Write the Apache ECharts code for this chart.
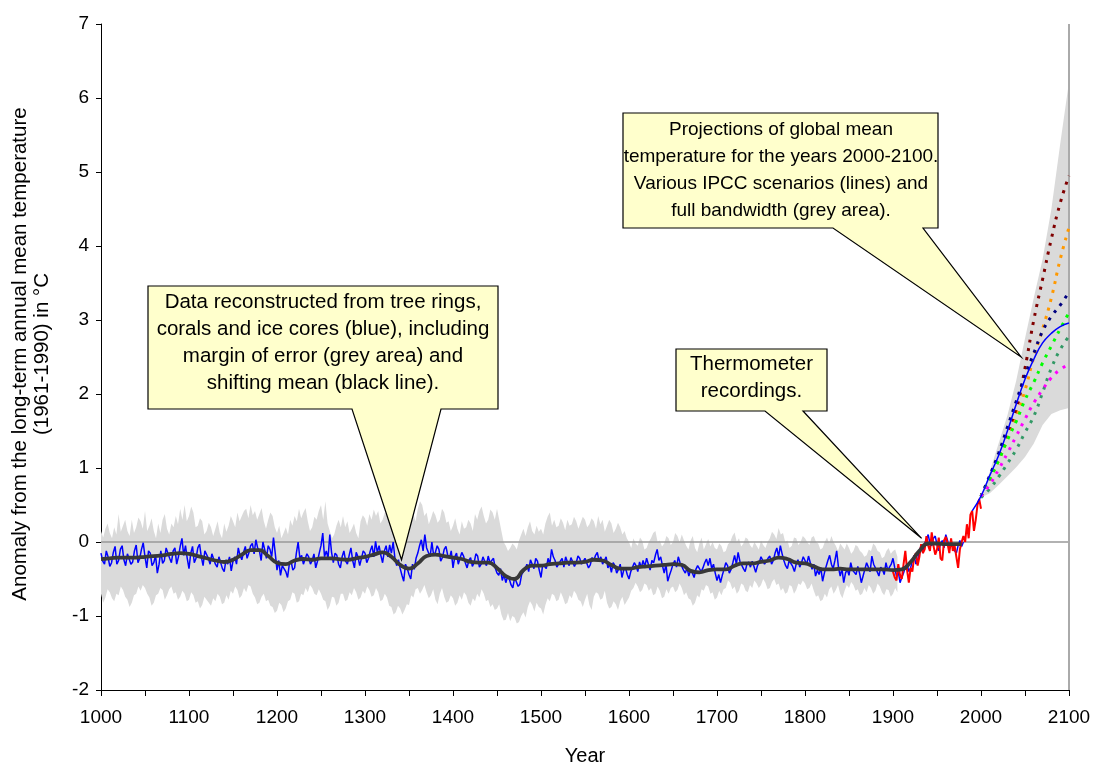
<!DOCTYPE html>
<html><head><meta charset="utf-8">
<script src="https://cdn.jsdelivr.net/npm/echarts@6/dist/echarts.min.js"></script>
<style>html,body{margin:0;padding:0;background:#fff}#c{width:1093px;height:765px}</style>
</head><body><div id="c"></div>
<script>
// ---------- data ----------
const xTicks = [1000, 1100, 1200, 1300, 1400, 1500, 1600, 1700, 1800, 1900, 2000, 2100];
const yTicks = [-2, -1, 0, 1, 2, 3, 4, 5, 6, 7];

// reconstructed (blue), every 2 years from 1000
const blueStart = 1000, blueStep = 2;
const blueValues = [
-0.15,-0.26,-0.30,-0.12,-0.20,-0.33,-0.28,-0.14,-0.06,-0.30,-0.25,-0.10,-0.05,-0.24,-0.32,-0.16,-0.18,-0.30,-0.27,-0.12,
-0.04,-0.28,-0.22,-0.10,-0.01,-0.20,-0.35,-0.12,-0.15,-0.32,-0.28,-0.18,-0.42,-0.30,-0.12,-0.29,-0.25,-0.08,-0.10,-0.22,
-0.28,-0.12,-0.08,-0.30,-0.20,-0.06,0.05,-0.18,-0.05,-0.22,-0.36,-0.15,-0.06,-0.28,-0.22,-0.08,-0.03,-0.20,-0.32,-0.12,
-0.14,-0.22,-0.30,-0.16,-0.18,-0.30,-0.34,-0.20,-0.22,-0.36,-0.40,-0.24,-0.30,-0.20,-0.39,-0.26,-0.20,-0.30,-0.08,-0.18,
-0.24,-0.14,-0.06,-0.22,-0.15,-0.05,-0.02,-0.16,0.03,-0.08,-0.12,-0.25,0.00,-0.10,-0.22,-0.05,-0.10,-0.20,0.06,-0.15,
-0.38,-0.25,-0.45,-0.32,-0.30,-0.40,-0.48,-0.30,-0.26,-0.38,-0.35,-0.15,0.00,-0.22,-0.18,-0.30,-0.32,-0.16,-0.20,-0.30,
-0.25,-0.16,-0.35,-0.26,-0.15,-0.05,0.12,-0.20,-0.12,-0.22,0.10,-0.14,-0.28,-0.15,-0.18,-0.30,-0.35,-0.20,-0.12,-0.26,
-0.30,-0.18,-0.08,-0.25,-0.35,-0.14,-0.20,-0.32,-0.30,-0.12,-0.15,-0.28,-0.22,-0.12,-0.05,-0.20,0.01,-0.14,-0.05,-0.18,
-0.28,-0.12,-0.05,-0.20,-0.04,-0.15,0.00,-0.22,-0.32,-0.24,-0.36,-0.45,-0.53,-0.30,-0.36,-0.44,-0.50,-0.30,-0.37,-0.22,
-0.15,-0.05,0.03,-0.12,0.10,-0.08,-0.06,-0.20,0.00,-0.18,-0.14,-0.05,-0.10,-0.26,-0.21,-0.10,-0.06,-0.18,-0.22,-0.12,
-0.35,-0.20,-0.15,-0.30,-0.28,-0.14,-0.19,-0.28,-0.35,-0.25,-0.21,-0.33,-0.28,-0.16,-0.19,-0.34,-0.30,-0.20,-0.22,-0.32,
-0.19,-0.28,-0.30,-0.22,-0.35,-0.42,-0.45,-0.36,-0.52,-0.44,-0.55,-0.47,-0.50,-0.58,-0.62,-0.48,-0.50,-0.60,-0.57,-0.44,
-0.45,-0.36,-0.30,-0.40,-0.24,-0.30,-0.36,-0.22,-0.26,-0.38,-0.48,-0.30,-0.28,-0.36,-0.22,-0.30,-0.10,-0.20,-0.25,-0.34,
-0.35,-0.26,-0.22,-0.34,-0.20,-0.27,-0.32,-0.21,-0.20,-0.33,-0.28,-0.19,-0.22,-0.30,-0.32,-0.22,-0.24,-0.35,-0.31,-0.21,
-0.25,-0.18,-0.14,-0.26,-0.20,-0.30,-0.28,-0.20,-0.35,-0.30,-0.41,-0.28,-0.32,-0.42,-0.37,-0.30,-0.48,-0.38,-0.35,-0.44,
-0.50,-0.40,-0.38,-0.28,-0.32,-0.40,-0.27,-0.35,-0.25,-0.33,-0.22,-0.30,-0.38,-0.25,-0.28,-0.18,-0.10,-0.25,-0.20,-0.32,
-0.42,-0.30,-0.53,-0.45,-0.38,-0.30,-0.25,-0.34,-0.20,-0.28,-0.30,-0.38,-0.42,-0.35,-0.46,-0.38,-0.42,-0.48,-0.37,-0.32,
-0.30,-0.40,-0.35,-0.28,-0.23,-0.32,-0.22,-0.36,-0.30,-0.42,-0.52,-0.44,-0.55,-0.45,-0.37,-0.28,-0.32,-0.42,-0.37,-0.28,
-0.18,-0.30,-0.14,-0.26,-0.28,-0.36,-0.40,-0.30,-0.27,-0.34,-0.26,-0.33,-0.41,-0.32,-0.28,-0.20,-0.22,-0.30,-0.32,-0.22,
-0.19,-0.30,-0.25,-0.15,-0.08,-0.20,-0.05,-0.16,-0.25,-0.32,-0.36,-0.25,-0.24,-0.33,-0.40,-0.30,-0.24,-0.34,-0.28,-0.20,
-0.20,-0.30,-0.19,-0.28,-0.37,-0.30,-0.46,-0.38,-0.44,-0.35,-0.53,-0.42,-0.33,-0.25,-0.18,-0.30,-0.36,-0.25,-0.12,-0.34,
-0.46,-0.36,-0.55,-0.42,-0.37,-0.45,-0.28,-0.38,-0.37,-0.44,-0.33,-0.42,-0.55,-0.46,-0.37,-0.28,-0.30,-0.40,-0.19,-0.30,
-0.32,-0.40,-0.46,-0.34,-0.37,-0.44,-0.28,-0.38,-0.37,-0.30,-0.22,-0.35,-0.46,-0.40,-0.55,-0.48,-0.42,-0.34,-0.30,-0.40,
-0.35,-0.25,-0.18,-0.30,-0.25,-0.12,-0.05,-0.15,-0.02,0.04,0.10,-0.02,-0.05,0.05,0.08,-0.04,-0.12,-0.02,0.02,-0.08,
0.10,0.02,-0.10,-0.02,-0.05,-0.12,-0.15,-0.05,0.02,-0.06,0.00
];

// margin of error (grey band), every 2.5 years from 1000
const bandStart = 1000, bandStep = 2.5;
const bandUpper = [
0.15,0.06,0.18,0.25,0.12,0.05,0.20,0.10,0.38,0.14,0.22,0.30,0.15,0.08,0.30,0.12,0.20,0.33,0.28,0.18,
0.42,0.15,0.22,0.32,0.15,0.05,0.25,0.12,0.30,0.38,0.18,0.10,0.25,0.20,0.35,0.24,0.45,0.30,0.50,0.28,
0.35,0.48,0.40,0.20,0.22,0.32,0.28,0.10,0.15,0.26,0.20,0.08,0.18,0.28,0.12,0.05,0.25,0.14,0.22,0.35,
0.28,0.20,0.40,0.28,0.35,0.42,0.45,0.32,0.50,0.36,0.42,0.30,0.38,0.46,0.28,0.18,0.30,0.40,0.35,0.20,
0.12,0.22,0.05,0.12,0.20,0.10,0.30,0.22,0.35,0.28,0.45,0.32,0.40,0.46,0.28,0.15,0.20,0.34,0.30,0.42,
0.50,0.30,0.55,0.25,0.15,0.05,0.10,0.22,0.30,0.20,0.35,0.20,0.28,0.12,0.18,0.25,0.12,0.05,0.28,0.36,
0.32,0.22,0.38,0.30,0.44,0.35,0.42,0.25,0.30,0.40,0.36,0.48,0.45,0.30,0.40,0.28,0.35,0.50,0.42,0.32,
0.30,0.42,0.38,0.28,0.45,0.55,0.50,0.35,0.40,0.24,0.32,0.42,0.36,0.26,0.30,0.45,0.40,0.26,0.28,0.15,
0.22,0.32,0.18,0.10,0.28,0.18,0.20,0.30,0.25,0.15,0.38,0.30,0.42,0.48,0.35,0.25,0.30,0.44,0.40,0.30,
0.45,0.30,0.15,0.00,-0.05,-0.12,-0.08,-0.02,-0.05,-0.10,0.02,0.10,0.18,0.08,0.20,0.28,0.15,0.10,0.22,0.14,
0.18,0.10,0.25,0.34,0.40,0.22,0.30,0.20,0.22,0.32,0.26,0.16,0.30,0.22,0.24,0.34,0.28,0.18,0.26,0.34,
0.30,0.20,0.24,0.32,0.28,0.18,0.35,0.24,0.30,0.14,0.22,0.30,0.25,0.12,0.18,0.26,0.20,0.10,0.15,0.05,
0.00,-0.08,0.05,-0.02,-0.05,0.06,0.02,-0.10,-0.08,0.00,0.05,0.12,0.15,0.00,0.02,-0.06,-0.02,0.08,0.05,-0.04,
0.00,0.12,0.08,0.00,0.10,0.02,-0.05,-0.10,0.02,0.08,-0.08,-0.14,-0.02,0.06,-0.10,-0.03,0.04,-0.06,0.00,-0.08,
-0.10,-0.02,-0.05,-0.14,-0.12,-0.03,0.00,0.08,0.13,0.00,0.05,-0.06,-0.02,0.06,0.04,-0.04,-0.08,0.00,-0.05,-0.10,
0.02,-0.04,-0.08,0.00,0.05,0.14,0.10,0.04,0.19,0.10,0.12,0.00,0.02,-0.08,-0.05,0.06,0.05,-0.04,0.00,0.08,
0.05,0.00,-0.04,0.06,0.08,0.00,-0.02,-0.10,-0.08,0.00,0.06,-0.02,0.08,0.00,-0.05,-0.12,-0.02,-0.06,-0.10,-0.02,
-0.08,-0.16,-0.12,-0.04,-0.06,-0.12,-0.15,-0.20,-0.18,-0.10,-0.12,-0.02,-0.05,-0.12,-0.14,-0.22,-0.20,-0.12,-0.08,-0.16,
-0.12,-0.10,-0.20
];
const bandLower = [
-0.70,-0.82,-0.75,-0.64,-0.68,-0.76,-0.80,-0.70,-0.72,-0.60,-0.65,-0.74,-0.78,-0.88,-0.82,-0.72,-0.70,-0.60,-0.66,-0.58,
-0.62,-0.70,-0.75,-0.86,-0.82,-0.72,-0.70,-0.62,-0.65,-0.78,-0.72,-0.64,-0.60,-0.70,-0.68,-0.78,-0.74,-0.66,-0.70,-0.80,
-0.78,-0.68,-0.72,-0.82,-0.80,-0.90,-0.85,-0.74,-0.78,-0.82,-0.86,-0.76,-0.80,-0.70,-0.74,-0.84,-0.82,-0.72,-0.78,-0.66,
-0.70,-0.60,-0.65,-0.76,-0.72,-0.62,-0.68,-0.58,-0.60,-0.70,-0.75,-0.84,-0.82,-0.74,-0.70,-0.80,-0.78,-0.86,-0.88,-0.96,
-0.93,-0.82,-0.85,-0.95,-0.90,-0.80,-0.78,-0.68,-0.70,-0.82,-0.80,-0.70,-0.72,-0.62,-0.68,-0.58,-0.62,-0.70,-0.72,-0.64,
-0.70,-0.78,-0.80,-0.92,-0.86,-0.74,-0.75,-0.86,-0.82,-0.70,-0.70,-0.80,-0.78,-0.68,-0.72,-0.62,-0.68,-0.78,-0.75,-0.66,
-0.70,-0.60,-0.65,-0.74,-0.72,-0.62,-0.68,-0.80,-0.78,-0.70,-0.75,-0.86,-0.88,-0.98,-0.95,-0.86,-0.90,-0.98,-0.92,-0.84,
-0.85,-0.72,-0.75,-0.64,-0.62,-0.70,-0.65,-0.58,-0.68,-0.76,-0.72,-0.64,-0.78,-0.84,-0.70,-0.62,-0.74,-0.82,-0.80,-0.72,
-0.76,-0.86,-0.82,-0.72,-0.78,-0.68,-0.72,-0.82,-0.86,-0.76,-0.80,-0.70,-0.75,-0.64,-0.70,-0.80,-0.78,-0.88,-0.84,-0.92,
-0.90,-0.84,-0.98,-1.06,-1.05,-0.96,-1.07,-1.00,-1.02,-1.10,-1.08,-1.00,-0.95,-1.02,-0.88,-0.80,-0.85,-0.94,-0.82,-0.88,
-0.90,-0.98,-0.85,-0.76,-0.80,-0.70,-0.72,-0.80,-0.78,-0.68,-0.75,-0.84,-0.82,-0.72,-0.76,-0.66,-0.70,-0.78,-0.80,-0.88,
-0.78,-0.70,-0.85,-0.92,-0.74,-0.68,-0.70,-0.78,-0.76,-0.66,-0.82,-0.90,-0.88,-0.80,-0.84,-0.92,-0.80,-0.74,-0.85,-0.80,
-0.75,-0.66,-0.62,-0.55,-0.60,-0.68,-0.65,-0.56,-0.58,-0.66,-0.62,-0.72,-0.70,-0.60,-0.66,-0.76,-0.74,-0.64,-0.70,-0.62,
-0.60,-0.68,-0.65,-0.56,-0.62,-0.72,-0.68,-0.76,-0.78,-0.86,-0.82,-0.72,-0.75,-0.64,-0.66,-0.58,-0.60,-0.70,-0.68,-0.78,
-0.75,-0.66,-0.72,-0.64,-0.62,-0.52,-0.55,-0.64,-0.60,-0.70,-0.66,-0.56,-0.58,-0.66,-0.68,-0.58,-0.62,-0.52,-0.56,-0.62,
-0.58,-0.50,-0.55,-0.64,-0.62,-0.54,-0.50,-0.58,-0.56,-0.66,-0.62,-0.70,-0.68,-0.58,-0.60,-0.70,-0.65,-0.56,-0.58,-0.52,
-0.56,-0.64,-0.62,-0.56,-0.66,-0.74,-0.72,-0.80,-0.78,-0.70,-0.75,-0.64,-0.60,-0.70,-0.65,-0.58,-0.70,-0.76,-0.66,-0.58,
-0.62,-0.54,-0.58,-0.66,-0.64,-0.72,-0.70,-0.62,-0.68,-0.58,-0.62,-0.70,-0.66,-0.56,-0.60,-0.68,-0.72,-0.64,-0.65,-0.74,
-0.70,-0.62,-0.68
];

// shifting mean (black line)
const meanYears = [1000,1010,1020,1030,1040,1050,1060,1070,1080,1090,1100,1110,1120,1130,1140,1150,1160,1170,1180,1190,1200,1210,1220,1230,1240,1250,1260,1270,1280,1290,1300,1310,1320,1330,1340,1350,1360,1370,1380,1390,1400,1410,1420,1430,1440,1450,1460,1470,1480,1490,1500,1510,1520,1530,1540,1550,1560,1570,1580,1590,1600,1610,1620,1630,1640,1650,1660,1670,1680,1690,1700,1710,1720,1730,1740,1750,1760,1770,1780,1790,1800,1810,1820,1830,1840,1850,1860,1870,1880,1890,1900,1910,1920,1930,1940,1950,1960,1970,1978];
const meanValues = [-0.23,-0.22,-0.21,-0.21,-0.21,-0.20,-0.19,-0.18,-0.16,-0.15,-0.16,-0.19,-0.22,-0.25,-0.27,-0.24,-0.17,-0.11,-0.11,-0.19,-0.28,-0.30,-0.25,-0.23,-0.24,-0.22,-0.22,-0.23,-0.24,-0.22,-0.20,-0.17,-0.14,-0.20,-0.31,-0.36,-0.29,-0.19,-0.17,-0.19,-0.21,-0.23,-0.27,-0.28,-0.28,-0.35,-0.46,-0.50,-0.38,-0.32,-0.32,-0.30,-0.29,-0.28,-0.28,-0.27,-0.24,-0.25,-0.31,-0.36,-0.36,-0.34,-0.33,-0.32,-0.31,-0.30,-0.31,-0.39,-0.41,-0.38,-0.37,-0.37,-0.32,-0.29,-0.29,-0.27,-0.25,-0.21,-0.23,-0.28,-0.29,-0.33,-0.37,-0.37,-0.36,-0.37,-0.37,-0.37,-0.37,-0.37,-0.38,-0.37,-0.27,-0.12,-0.02,-0.02,-0.03,-0.03,-0.03];

// thermometer recordings (red), every 2 years from 1900
const redStart = 1900, redStep = 2;
const redValues = [-0.40,-0.48,-0.52,-0.30,-0.45,-0.50,-0.30,-0.12,-0.38,-0.55,-0.35,-0.40,-0.20,-0.15,-0.32,-0.20,-0.03,-0.15,-0.10,0.08,-0.05,-0.12,0.13,-0.05,-0.17,-0.10,0.06,-0.22,-0.25,0.02,0.07,-0.02,-0.15,0.05,-0.12,-0.05,-0.20,-0.35,-0.10,0.00,0.08,0.00,0.24,0.05,0.37,0.42,0.15,0.30,0.50,0.58,0.45];

// projections 2000-2100
const projYears = [2000,2010,2020,2030,2040,2050,2060,2070,2080,2090,2100];
const projUpper = [0.60,0.95,1.33,1.71,2.18,2.75,3.30,3.82,4.50,5.38,6.22];
const projLower = [0.60,0.66,0.77,0.89,1.01,1.15,1.33,1.58,1.73,1.78,1.81];
const projMainYears = [1990,2000,2010,2020,2030,2040,2050,2060,2070,2080,2090,2100];
const projMain = [0.42,0.62,0.90,1.17,1.50,1.86,2.20,2.47,2.69,2.82,2.91,2.96];
const scenMaroon  = [0.62,0.88,1.15,1.45,1.78,2.35,3.00,3.55,4.10,4.58,4.95];
const scenOrange  = [0.62,0.85,1.10,1.38,1.68,2.05,2.50,2.88,3.30,3.82,4.25];
const scenNavy    = [0.62,0.90,1.20,1.55,1.90,2.25,2.55,2.85,3.05,3.20,3.38];
const scenGreen   = [0.62,0.85,1.10,1.38,1.63,1.92,2.16,2.42,2.65,2.88,3.10];
const scenTeal    = [0.60,0.72,0.88,1.06,1.25,1.48,1.70,2.02,2.35,2.60,2.78];
const scenMagenta = [0.62,0.78,0.98,1.20,1.43,1.66,1.88,2.06,2.22,2.33,2.40];

// ---------- build ----------
const FONT = '"Liberation Sans", Arial, sans-serif';
const seq = (start, step, vals) => vals.map((v, i) => [start + i * step, v]);
const pair = (xs, vals) => vals.map((v, i) => [xs[i], v]);
const GREY = '#DADADA';

function bandSeries(xs, lo, up) {
  return {
    type: 'custom', silent: true, animation: false, clip: true,
    data: xs.map((x, i) => [x, lo[i], up[i]]),
    encode: {x: 0, y: [1, 2]},
    renderItem: function (params, api) {
      if (params.dataIndex !== 0) return null;
      const pts = [];
      for (let i = 0; i < xs.length; i++) pts.push(api.coord([xs[i], up[i]]));
      for (let i = xs.length - 1; i >= 0; i--) pts.push(api.coord([xs[i], lo[i]]));
      return {type: 'polygon', shape: {points: pts}, style: {fill: GREY, stroke: null}};
    }
  };
}
const bandYears = bandUpper.map((v, i) => bandStart + i * bandStep);

const base = {type: 'line', symbol: 'none', silent: true, animation: false};
const dotted = (vals, color) => Object.assign({}, base, {
  data: pair(projYears, vals), smooth: true,
  lineStyle: {color, width: 3, type: [3, 6], cap: 'butt'}
});

const chart = echarts.init(document.getElementById('c'), null, {renderer: 'canvas'});
chart.setOption({
  animation: false,
  backgroundColor: '#fff',
  grid: {left: 101, right: 24, top: 24, bottom: 75, containLabel: false, outerBoundsMode: 'none'},
  xAxis: {
    type: 'value', min: 1000, max: 2100, interval: 50,
    axisLine: {onZero: false, lineStyle: {color: '#000', width: 1}},
    axisTick: {show: true, length: 6, lineStyle: {color: '#000'}},
    axisLabel: {formatter: v => xTicks.includes(v) ? String(v) : '', fontSize: 19, color: '#000', margin: 18, fontFamily: FONT},
    splitLine: {show: false},
    name: 'Year', nameLocation: 'middle', nameGap: 56,
    nameTextStyle: {fontSize: 20, color: '#000', fontFamily: FONT}
  },
  yAxis: {
    type: 'value', min: yTicks[0], max: yTicks[yTicks.length - 1], interval: 1,
    axisLine: {show: true, onZero: false, lineStyle: {color: '#000', width: 1}},
    axisTick: {show: true, length: 5, lineStyle: {color: '#000'}},
    axisLabel: {fontSize: 19, color: '#000', margin: 12, fontFamily: FONT},
    splitLine: {show: false}
  },
  series: [
    bandSeries(bandYears, bandLower, bandUpper),
    bandSeries(projYears, projLower, projUpper),
    Object.assign({}, base, {data: [[1000, 0], [2100, 0]], lineStyle: {color: '#999', width: 1.5}}),
    Object.assign({}, base, {data: [[2100, yTicks[0]], [2100, yTicks[yTicks.length - 1]]], lineStyle: {color: '#aaa', width: 2}}),
    Object.assign({}, base, {data: seq(blueStart, blueStep, blueValues), lineStyle: {color: '#0000FF', width: 1.5}}),
    Object.assign({}, base, {data: seq(redStart, redStep, redValues), lineStyle: {color: '#FF0000', width: 2}}),
    Object.assign({}, base, {data: pair(meanYears, meanValues), smooth: true, lineStyle: {color: '#383838', width: 3.8}}),
    dotted(scenMaroon, '#800000'),
    dotted(scenOrange, '#FF9900'),
    dotted(scenNavy, '#000080'),
    dotted(scenGreen, '#00FF00'),
    dotted(scenTeal, '#339966'),
    dotted(scenMagenta, '#FF00FF'),
    Object.assign({}, base, {data: pair(projMainYears, projMain), smooth: true, lineStyle: {color: '#0000FF', width: 1.5}})
  ]
});

// ---------- callouts ----------
const P = (x, y) => chart.convertToPixel({gridIndex: 0}, [x, y]);
function callout(box, base0, base1, tip, text, cx, cy, fs) {
  const [l, t, r, b] = box;
  const tp = P(tip[0], tip[1]);
  return [
    {type: 'polygon', z: 100, silent: true,
     shape: {points: [[l, t], [r, t], [r, b], [base1, b], tp, [base0, b], [l, b]]},
     style: {fill: '#FFFFCC', stroke: '#000', lineWidth: 1.2}},
    {type: 'text', z: 101, silent: true, x: cx, y: cy,
     style: {text, font: fs + 'px ' + FONT, fill: '#000', align: 'center', verticalAlign: 'middle', lineHeight: 27}}
  ];
}
const graphics = [].concat(
  callout([148, 286, 498, 409], 352, 441, [1341.5, -0.24],
    'Data reconstructed from tree rings,\ncorals and ice cores (blue), including\nmargin of error (grey area) and\nshifting mean (black line).', 323, 343, 20.5),
  callout([676, 349, 827, 411], 765, 803, [1932.5, 0.05],
    'Thermometer\nrecordings.', 751.5, 378, 20.5),
  callout([623, 113, 938, 228], 833, 923, [2045.5, 2.5],
    'Projections of global mean\ntemperature for the years 2000-2100.\nVarious IPCC scenarios (lines) and\nfull bandwidth (grey area).', 781, 170.5, 19),
  [{type: 'text', z: 101, silent: true, x: 31, y: 354, rotation: Math.PI / 2,
    style: {text: 'Anomaly from the long-term annual mean temperature\n(1961-1990) in °C', font: '20.5px ' + FONT, fill: '#000', align: 'center', verticalAlign: 'middle', lineHeight: 22}}]
);
chart.setOption({graphic: graphics});
</script></body></html>
